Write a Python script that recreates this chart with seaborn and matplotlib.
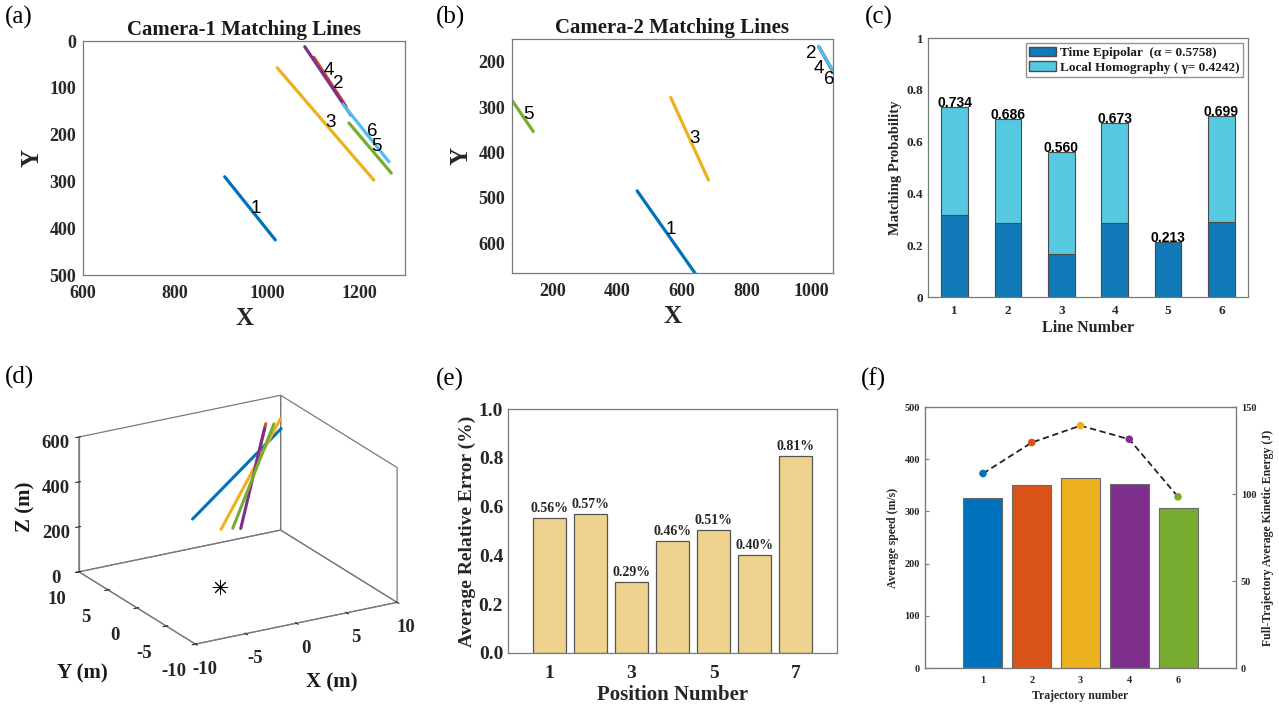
import matplotlib
matplotlib.use("Agg")
import matplotlib.pyplot as plt
from matplotlib.patches import Patch
import pandas as pd
import seaborn as sns

# ---------------- data ----------------
line_ids = ['1', '2', '3', '4', '5', '6']
line_colors = ['#0072BD', '#D95319', '#EDB120', '#7E2F8E', '#77AC30', '#4DBEEE']

# (a) Camera-1 matching lines: endpoints and label spots
cam1_x0 = [908, 1102, 1022, 1082, 1178, 1165]
cam1_y0 = [290, 35, 57, 12, 175, 135]
cam1_x1 = [1018, 1172, 1232, 1182, 1270, 1265]
cam1_y1 = [425, 140, 297, 158, 282, 258]
cam1_lab_x = [975, 1154, 1139, 1134, 1237, 1228]
cam1_lab_y = [357, 90, 175, 62, 226, 194]

# (b) Camera-2 matching lines
cam2_x0 = [461, 1025, 565, 1024, 70, 1023]
cam2_y0 = [485, 168, 279, 167, 282, 166]
cam2_x1 = [640, 1066, 682, 1068, 139, 1069]
cam2_y1 = [666, 220, 461, 221, 354, 221]
cam2_lab_x = [565, 1002, 640, 1023, 124, 1057]
cam2_lab_y = [571, 181, 369, 214, 317, 240]

# (c) matching probability
prob_epipolar = [0.318, 0.284, 0.165, 0.287, 0.213, 0.288]
prob_total = [0.734, 0.686, 0.560, 0.673, 0.213, 0.699]

# (d) reconstructed 3D trajectories
traj3d_colors = ['#0072BD', '#D95319', '#EDB120', '#7E2F8E', '#77AC30']
traj3d_x0 = [0.11, 6.39, 2.94, 4.89, 4.10]
traj3d_x1 = [8.89, 7.37, 8.83, 7.27, 8.18]
traj3d_y0 = [8, 8, 8, 8, 8]
traj3d_y1 = [8, 8, 8, 8, 8]
traj3d_z0 = [173, 357, 101, 87, 95]
traj3d_z1 = [494, 530, 539, 513, 522]
camera_pos = (-1.4, 0.75, 0)

# (e) average relative error
positions = [1, 2, 3, 4, 5, 6, 7]
rel_error = [0.555, 0.568, 0.292, 0.461, 0.505, 0.401, 0.807]
rel_error_labels = ['0.56%', '0.57%', '0.29%', '0.46%', '0.51%', '0.40%', '0.81%']

# (f) speed and kinetic energy
traj_numbers = ['1', '2', '3', '4', '6']
avg_speed = [326, 350, 364, 353, 306]
kinetic_energy = [111.8, 129.6, 139.3, 131.5, 98.4]
traj_colors = ['#0072BD', '#D95319', '#EDB120', '#7E2F8E', '#77AC30']

# ---------------- style ----------------
sns.set_style("white")
plt.rcParams['font.family'] = ['Liberation Serif', 'DejaVu Serif']
plt.rcParams['font.weight'] = 'bold'
plt.rcParams['axes.labelweight'] = 'bold'
plt.rcParams['axes.titleweight'] = 'bold'
plt.rcParams['axes.unicode_minus'] = False
plt.rcParams['xtick.direction'] = 'in'
plt.rcParams['ytick.direction'] = 'in'
plt.rcParams['text.color'] = '#1a1a1a'
EDGE = '#7a7a7a'
SANS = ['Liberation Sans', 'DejaVu Sans']

fig = plt.figure(figsize=(12.79, 7.09), dpi=100)


def frame(ax):
    for s in ax.spines.values():
        s.set_visible(True)
        s.set_color(EDGE)
        s.set_linewidth(0.9)
    ax.tick_params(color=EDGE, length=3, width=0.8, labelcolor='#262626')


def line_panel(ax, x0, y0, x1, y1, lx, ly, title):
    rows = []
    for i, lid in enumerate(line_ids):
        rows.append({'line': lid, 'x': x0[i], 'y': y0[i]})
        rows.append({'line': lid, 'x': x1[i], 'y': y1[i]})
    df = pd.DataFrame(rows)
    sns.lineplot(data=df, x='x', y='y', hue='line', hue_order=line_ids,
                 palette=line_colors, estimator=None, sort=False,
                 lw=2.3, legend=False, ax=ax)
    for i, lid in enumerate(line_ids):
        ax.text(lx[i], ly[i], lid, family=SANS, fontweight='normal',
                fontsize=13.5, ha='center', va='center', color='black')
    ax.set_title(title, fontsize=15, pad=4)
    ax.set_xlabel('X', fontsize=18, labelpad=4)
    ax.set_ylabel('Y', fontsize=18, labelpad=4)
    ax.tick_params(labelsize=13)
    ax.tick_params(axis='x', pad=7)
    ax.tick_params(axis='y', pad=5)
    frame(ax)


# (a)
ax_a = fig.add_axes([0.0649, 0.6121, 0.2518, 0.3300])
line_panel(ax_a, cam1_x0, cam1_y0, cam1_x1, cam1_y1, cam1_lab_x, cam1_lab_y,
           'Camera-1 Matching Lines')
ax_a.set_xlim(600, 1300)
ax_a.set_ylim(500, 0)
ax_a.set_xticks([600, 800, 1000, 1200])
ax_a.set_yticks([0, 100, 200, 300, 400, 500])

# (b)
ax_b = fig.add_axes([0.4003, 0.6150, 0.2510, 0.3300])
line_panel(ax_b, cam2_x0, cam2_y0, cam2_x1, cam2_y1, cam2_lab_x, cam2_lab_y,
           'Camera-2 Matching Lines')
ax_b.set_xlim(73, 1068)
ax_b.set_ylim(666, 150)
ax_b.set_xticks([200, 400, 600, 800, 1000])
ax_b.set_yticks([200, 300, 400, 500, 600])

# (c)
ax_c = fig.add_axes([0.7256, 0.5811, 0.2502, 0.3653])
dark_c, light_c = '#1279B9', '#56C8E0'
df_c = pd.DataFrame({'line': line_ids, 'total': prob_total, 'epi': prob_epipolar})
sns.barplot(data=df_c, x='line', y='total', color=light_c, saturation=1,
            width=0.5, edgecolor='#4a4a4a', linewidth=0.8, ax=ax_c)
sns.barplot(data=df_c, x='line', y='epi', color=dark_c, saturation=1,
            width=0.5, edgecolor='#4a4a4a', linewidth=0.8, ax=ax_c)
for i, v in enumerate(prob_total):
    ax_c.text(i, v - 0.012, f'{v:.3f}', family=SANS, fontsize=10,
              ha='center', va='bottom', color='black')
ax_c.set_xlim(-0.5, 5.5)
ax_c.set_ylim(0, 1)
ax_c.set_yticks([0, 0.2, 0.4, 0.6, 0.8, 1.0], labels=['0', '0.2', '0.4', '0.6', '0.8', '1'])
ax_c.set_xlabel('Line Number', fontsize=11.5, labelpad=2)
ax_c.set_ylabel('Matching Probability', fontsize=10.5, labelpad=3)
ax_c.tick_params(labelsize=9.5)
ax_c.tick_params(axis='x', pad=6)
frame(ax_c)
ax_c.legend(handles=[Patch(facecolor=dark_c, edgecolor='#4a4a4a', label='Time Epipolar  (α = 0.5758)'),
                     Patch(facecolor=light_c, edgecolor='#4a4a4a', label='Local Homography ( γ= 0.4242)')],
            loc='upper right', fontsize=9.5, frameon=True, fancybox=False,
            edgecolor=EDGE, borderaxespad=0.4, handlelength=2.0,
            handletextpad=0.3, borderpad=0.25, labelspacing=0.2)

# (d)
ax_d = fig.add_axes([0.0022, 0.0, 0.36, 0.52], projection='3d')
ax_d.set_proj_type('ortho')
ax_d.view_init(elev=21, azim=-120)
ax_d.set_box_aspect((1, 1, 0.62), zoom=0.947)
for i in range(len(traj3d_colors)):
    ax_d.plot([traj3d_x0[i], traj3d_x1[i]], [traj3d_y0[i], traj3d_y1[i]],
              [traj3d_z0[i], traj3d_z1[i]], color=traj3d_colors[i], lw=2.2)
ax_d.scatter([camera_pos[0]], [camera_pos[1]], [camera_pos[2]], marker=(8, 2, 0),
             color='black', s=110, linewidths=0.7)
ax_d.set_xlim(-10, 10)
ax_d.set_ylim(-10, 10)
ax_d.set_zlim(0, 600)
ax_d.set_xticks([-10, -5, 0, 5, 10])
ax_d.set_yticks([-10, -5, 0, 5, 10])
ax_d.set_zticks([0, 200, 400, 600])
ax_d.grid(False)
for axis in (ax_d.xaxis, ax_d.yaxis, ax_d.zaxis):
    axis.pane.set_closed(True)
    axis.pane.set_facecolor((1, 1, 1, 0))
    axis.pane.set_edgecolor(EDGE)
    axis.pane.set_linewidth(0.9)
    axis.pane.set_alpha(None)
    axis.line.set_color(EDGE)
    axis.line.set_linewidth(0.9)
ax_d.tick_params(labelsize=13.5, pad=0)
ax_d.tick_params(axis='x', pad=3)
ax_d.tick_params(axis='y', pad=7)
ax_d.tick_params(axis='z', pad=2)
fig.text(25 / 1279, 1 - 507 / 709, 'Z (m)', fontsize=15, rotation=90, ha='center', va='center')
fig.text(82 / 1279, 1 - 673 / 709, 'Y (m)', fontsize=15, ha='center', va='center')
fig.text(332 / 1279, 1 - 682 / 709, 'X (m)', fontsize=15, ha='center', va='center')

# (e)
ax_e = fig.add_axes([0.3972, 0.0790, 0.2572, 0.3441])
df_e = pd.DataFrame({'pos': positions, 'err': rel_error})
sns.barplot(data=df_e, x='pos', y='err', native_scale=True, color='#EFD28E',
            saturation=1, width=0.8, edgecolor='#555555', linewidth=0.9, ax=ax_e)
for p, v, s in zip(positions, rel_error, rel_error_labels):
    ax_e.text(p, v + 0.012, s, fontsize=10, ha='center', va='bottom', color='#262626')
ax_e.set_xlim(0, 8)
ax_e.set_ylim(0, 1.0)
ax_e.set_xticks([1, 3, 5, 7])
ax_e.set_yticks([0, 0.2, 0.4, 0.6, 0.8, 1.0], labels=['0.0', '0.2', '0.4', '0.6', '0.8', '1.0'])
ax_e.set_xlabel('Position Number', fontsize=15, labelpad=2)
ax_e.set_ylabel('Average Relative Error (%)', fontsize=14, labelpad=2)
ax_e.tick_params(labelsize=14)
ax_e.tick_params(axis='x', pad=9)
frame(ax_e)

# (f)
ax_f = fig.add_axes([0.7232, 0.0578, 0.2432, 0.3681])
df_f = pd.DataFrame({'traj': traj_numbers, 'speed': avg_speed})
sns.barplot(data=df_f, x='traj', y='speed', hue='traj', palette=traj_colors,
            saturation=1, width=0.8, edgecolor='#6a6a6a', linewidth=0.8,
            legend=False, ax=ax_f)
ax_f.set_xlim(-1.19, 5.19)
ax_f.set_ylim(0, 500)
ax_f.set_xlabel('Trajectory number', fontsize=8.5, labelpad=3)
ax_f.set_ylabel('Average speed (m/s)', fontsize=8.5, labelpad=4)
ax_f.tick_params(labelsize=7.5)
ax_f.tick_params(axis='x', pad=6)
frame(ax_f)
ax_f2 = ax_f.twinx()
df_f2 = pd.DataFrame({'idx': list(range(len(traj_numbers))), 'energy': kinetic_energy})
sns.lineplot(data=df_f2, x='idx', y='energy', color='#222222', lw=1.3,
             linestyle=(0, (3.5, 2)), ax=ax_f2)
sns.scatterplot(data=df_f2, x='idx', y='energy', hue='idx', palette=traj_colors,
                s=30, edgecolor='none', legend=False, ax=ax_f2, zorder=3)
ax_f2.set_ylim(0, 150)
ax_f2.set_yticks([0, 50, 100, 150])
ax_f2.set_xlim(-1.19, 5.19)
ax_f2.set_ylabel('Full-Trajectory Average Kinetic Energy (J)', fontsize=8.5, labelpad=4)
ax_f2.set_xlabel('')
ax_f2.tick_params(labelsize=7.5, color=EDGE, length=3)
for s in ax_f2.spines.values():
    s.set_color(EDGE)

# panel letters
for lbl, (x, y) in zip(['(a)', '(b)', '(c)', '(d)', '(e)', '(f)'],
                       [(0.004, 0.992), (0.341, 0.992), (0.676, 0.992),
                        (0.004, 0.484), (0.341, 0.481), (0.673, 0.481)]):
    fig.text(x, y, lbl, fontsize=18, fontweight='normal', va='top', ha='left', color='black')

fig.savefig('out.png', dpi=100)
